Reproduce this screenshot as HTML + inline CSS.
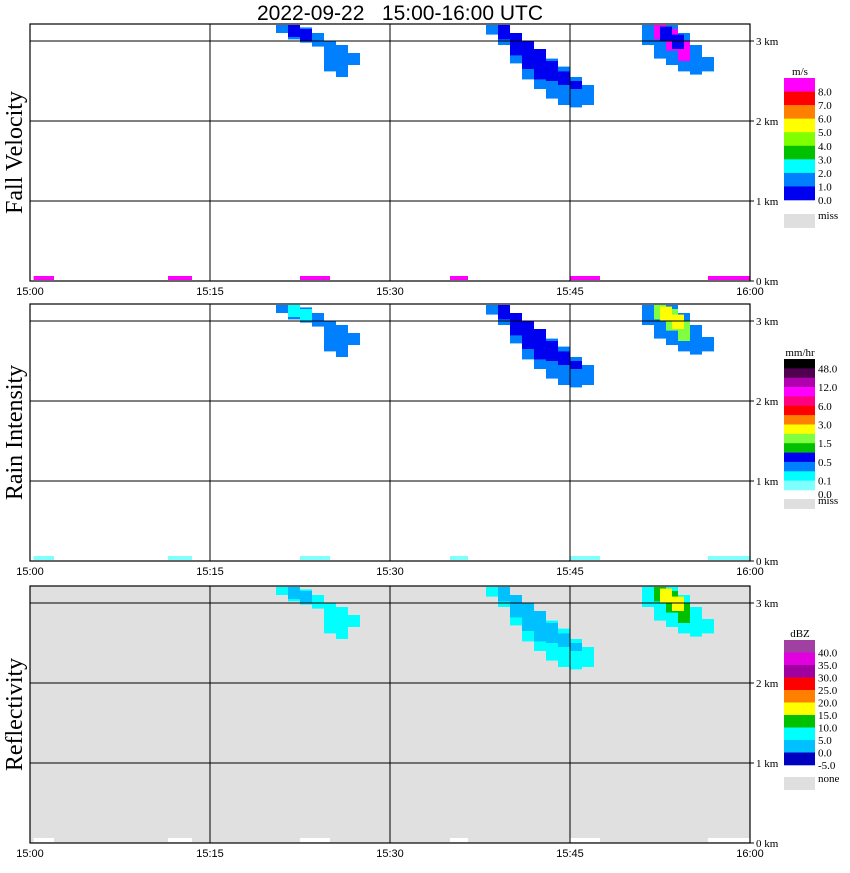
<!DOCTYPE html>
<html><head><meta charset="utf-8">
<style>
body{margin:0;background:#fff;}
svg text{font-family:"Liberation Serif",serif;}
</style></head>
<body>
<svg id="chart" width="850" height="868" viewBox="0 0 850 868" xmlns="http://www.w3.org/2000/svg">
<text x="400" y="20" font-size="21" text-anchor="middle" style="font-family:'Liberation Sans',sans-serif;white-space:pre" xml:space="preserve">2022-09-22   15:00-16:00 UTC</text>
</svg>
<script>
// ---- data ----
const timeTicks = ["15:00","15:15","15:30","15:45","16:00"];
const tickMinutes = [0,15,30,45,60];
const heightTicks = [0,1,2,3];
const panelTitles = ["Fall Velocity","Rain Intensity","Reflectivity"];
const panelBases = [281,561,843];

// echo shapes: columns (minute, bottom km, top km)
const shapeA_t   = [20.5,21.5,22.5,23.5,24.5,25.5,26.5];
const shapeA_top = [3.2,3.2,3.17,3.1,3.0,2.95,2.85];
const shapeA_bot = [3.1,3.02,2.98,2.93,2.62,2.55,2.7];
const shapeB_t   = [38,39,40,41,42,43,44,45,46];
const shapeB_top = [3.2,3.2,3.1,3.0,2.9,2.78,2.68,2.55,2.45];
const shapeB_bot = [3.08,2.95,2.72,2.52,2.4,2.28,2.2,2.17,2.2];
const coreB_t    = [39,40,41,42,43,44,45];
const coreB_top  = [3.2,3.1,3.0,2.9,2.75,2.62,2.5];
const coreB_bot  = [3.02,2.82,2.65,2.52,2.5,2.45,2.4];
const shapeC_t   = [51,52,53,54,55,56];
const shapeC_top = [3.2,3.2,3.2,3.1,2.95,2.8];
const shapeC_bot = [2.95,2.78,2.7,2.62,2.58,2.62];
const coreC_t    = [52,53,54];
const coreC_top  = [3.2,3.15,3.0];
const coreC_bot  = [3.02,2.88,2.75];
const yellowC_t  = [52.5,53.5];
const yellowC_top= [3.18,3.08];
const yellowC_bot= [3.0,2.9];
// near-ground echoes
const groundStart = [0.3,11.5,22.5,35,45,56.5];
const groundEnd   = [2,13.5,25,36.5,47.5,60];

const legendTitles = ["m/s","mm/hr","dBZ"];
const legendColors = [
 ["#ff00ff","#ff0000","#ff8000","#ffff00","#80ff00","#00c000","#00ffff","#0080ff","#0000f0"],
 ["#000000","#500050","#b000b0","#ff00ff","#ff0080","#ff0000","#ff8000","#ffff00","#80ff40","#00c000","#0000f0","#0080ff","#00ffff","#80ffff"],
 ["#a040a0","#e000e0","#a000a0","#ff0000","#ff8000","#ffff00","#00c000","#00ffff","#00c0ff","#0000c0"]];
const legendLabels = [
 ["8.0","7.0","6.0","5.0","4.0","3.0","2.0","1.0","0.0"],
 ["48.0","12.0","6.0","3.0","1.5","0.5","0.1","0.0"],
 ["40.0","35.0","30.0","25.0","20.0","15.0","10.0","5.0","0.0","-5.0"]];
const legendMiss = ["miss","miss","none"];

// ---- drawing ----
const NS="http://www.w3.org/2000/svg";
const svg=document.getElementById('chart');
const X0=30,X1=750,PX=12,KM=80;
const xs=t=>X0+t*PX;
function el(tag,attrs,parent){const e=document.createElementNS(NS,tag);for(const k in attrs)e.setAttribute(k,attrs[k]);(parent||svg).appendChild(e);return e;}
function cols(g,base,color,t,bot,top,w){
  for(let i=0;i<t.length;i++){
    const r=el('rect',{x:xs(t[i]),y:base-top[i]*KM,width:w*PX,height:(top[i]-bot[i])*KM,fill:color},g);
    
    
  }
}
const panelStyles=[
 {bg:"#fff",A:"#0080ff",Ac:"#0000f0",B:"#0080ff",Bc:"#0000f0",C:"#0080ff",Cc:"#ff00ff",Cy:"#0000f0",ground:"#ff00ff"},
 {bg:"#fff",A:"#0080ff",Ac:"#00ffff",B:"#0080ff",Bc:"#0000f0",C:"#0080ff",Cc:"#80ff40",Cy:"#ffff00",ground:"#80ffff"},
 {bg:"#e0e0e0",A:"#00ffff",Ac:"#00c0ff",B:"#00ffff",Bc:"#00c0ff",C:"#00ffff",Cc:"#00c000",Cy:"#ffff00",ground:"#ffffff"}];

for(let p=0;p<3;p++){
  const base=panelBases[p], top=base-3.2*KM-1, st=panelStyles[p];
  const g=el('g',{});
  
  
  el('rect',{x:X0,y:top,width:X1-X0,height:base-top,fill:st.bg},g);
  cols(g,base,st.A,shapeA_t,shapeA_bot,shapeA_top,1);
  cols(g,base,st.Ac,[21.5,22.5],[3.05,3.0],[3.2,3.15],1);
  cols(g,base,st.B,shapeB_t,shapeB_bot,shapeB_top,1);
  cols(g,base,st.Bc,coreB_t,coreB_bot,coreB_top,1);
  cols(g,base,st.C,shapeC_t,shapeC_bot,shapeC_top,1);
  cols(g,base,st.Cc,coreC_t,coreC_bot,coreC_top,1);
  cols(g,base,st.Cy,yellowC_t,yellowC_bot,yellowC_top,1);
  for(let i=0;i<groundStart.length;i++){
    const r=el('rect',{x:xs(groundStart[i]),y:base-5,width:(groundEnd[i]-groundStart[i])*PX,height:4,fill:st.ground},g);
    
    
  }
  for(const m of tickMinutes){el('line',{x1:xs(m),y1:top,x2:xs(m),y2:base,stroke:'#000','stroke-width':1},g);}
  for(const h of heightTicks){
    const y=base-h*KM;
    el('line',{x1:X0,y1:y,x2:X1+4,y2:y,stroke:'#000'},g);
    const t=el('text',{x:X1+6,y:y+4,'font-size':11},g);t.textContent=h+' km';
    
    
  }
  el('rect',{x:X0,y:top,width:X1-X0,height:base-top,fill:'none',stroke:'#000','stroke-width':1.2},g);
  tickMinutes.forEach((m,i)=>{
    const t=el('text',{x:xs(m),y:base+14,'font-size':11,'text-anchor':'middle',style:"font-family:'Liberation Sans',sans-serif"},g);
    t.textContent=timeTicks[i];
    
    
  });
  const tt=el('text',{x:0,y:0,'font-size':24,'text-anchor':'middle',transform:`translate(22,${(top+base)/2}) rotate(-90)`},g);
  tt.textContent=panelTitles[p];
  
  
  const lg=el('g',{});
  
  
  const boxTop=[78,359,640][p], boxBot=[200,490,765][p], missY=[214,499,777][p], missH=[14,10,13][p];
  const cs=legendColors[p], bh=(boxBot-boxTop)/cs.length;
  const lt=el('text',{x:800,y:boxTop-3,'font-size':11,'text-anchor':'middle'},lg);lt.textContent=legendTitles[p];
  cs.forEach((c,i)=>{el('rect',{x:784,y:boxTop+i*bh,width:31,height:bh+0.3,fill:c},lg);});
  const labs=legendLabels[p];
  labs.forEach((l,i)=>{
    let y;
    if(p===1){y=(i<7)?boxTop+(2*i+1)*bh+4:boxBot+8;}
    else y=boxTop+(i+1)*bh+4;
    const t=el('text',{x:818,y:y,'font-size':11},lg);t.textContent=l;
    
    
  });
  el('rect',{x:784,y:missY,width:31,height:missH,fill:'#dfdfdf'},lg);
  const mt=el('text',{x:818,y:missY+5,'font-size':11},lg);mt.textContent=legendMiss[p];
}
</script>
</body></html>
